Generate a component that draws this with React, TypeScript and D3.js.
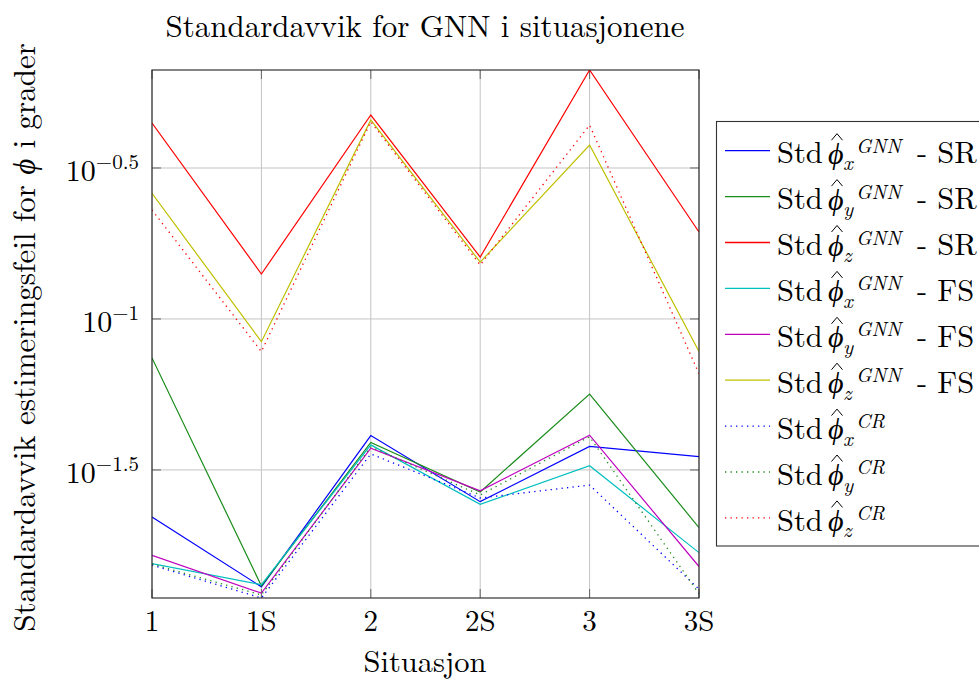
import React from 'react';
import * as d3 from 'd3';

// ---- data (standard deviation, degrees) ----
const situations = ['1', '1S', '2', '2S', '3', '3S'];

const stdXGnnSR = [0.02208, 0.01297, 0.04111, 0.02483, 0.03784, 0.03499];
const stdYGnnSR = [0.0743, 0.01306, 0.0390, 0.02673, 0.0564, 0.02037];
const stdZGnnSR = [0.4457, 0.1409, 0.4736, 0.1603, 0.6676, 0.1941];
const stdXGnnFS = [0.01549, 0.01318, 0.03828, 0.02432, 0.03266, 0.01683];
const stdYGnnFS = [0.01648, 0.01236, 0.03733, 0.02698, 0.04121, 0.01514];
const stdZGnnFS = [0.2606, 0.0841, 0.4560, 0.1542, 0.3767, 0.0780];
const stdXCR = [0.01531, 0.01191, 0.03573, 0.02553, 0.02818, 0.01274];
const stdYCR = [0.01542, 0.01219, 0.03767, 0.02612, 0.04074, 0.01230];
const stdZCR = [0.2296, 0.0780, 0.4498, 0.1510, 0.4385, 0.0658];

const yTickPowers = [-0.5, -1, -1.5];
const yTickLabels = ['\u22120.5', '\u22121', '\u22121.5'];

const seriesList = [
  { values: stdXGnnSR, color: '#0000ff', dotted: false, sub: 'x', sup: 'GNN', suffix: '- SR' },
  { values: stdYGnnSR, color: '#1a8c1a', dotted: false, sub: 'y', sup: 'GNN', suffix: '- SR' },
  { values: stdZGnnSR, color: '#ff0000', dotted: false, sub: 'z', sup: 'GNN', suffix: '- SR' },
  { values: stdXGnnFS, color: '#00bfbf', dotted: false, sub: 'x', sup: 'GNN', suffix: '- FS' },
  { values: stdYGnnFS, color: '#bf00bf', dotted: false, sub: 'y', sup: 'GNN', suffix: '- FS' },
  { values: stdZGnnFS, color: '#bfbf00', dotted: false, sub: 'z', sup: 'GNN', suffix: '- FS' },
  { values: stdXCR, color: '#0000ff', dotted: true, sub: 'x', sup: 'CR', suffix: '' },
  { values: stdYCR, color: '#1a8c1a', dotted: true, sub: 'y', sup: 'CR', suffix: '' },
  { values: stdZCR, color: '#ff0000', dotted: true, sub: 'z', sup: 'CR', suffix: '' },
];

const W = 979;
const H = 680;
const plot = { left: 152, right: 699, top: 70, bottom: 598 };
const FONT = '"Latin Modern Roman", "Liberation Serif", serif';
const PHI_FONT = '"Liberation Serif", "DejaVu Serif", serif';

export default function App() {
  const allValues = seriesList.flatMap((s) => s.values);
  const x = d3.scalePoint<string>().domain(situations).range([plot.left, plot.right]);
  const y = d3
    .scaleLog()
    .domain(d3.extent(allValues) as [number, number])
    .range([plot.bottom, plot.top]);

  const line = d3
    .line<number>()
    .x((_, i) => x(situations[i]) as number)
    .y((v) => y(v));

  const tickLen = 9;
  const legendTop = 150.7;
  const legendStep = 45.9;
  const txt = { fontFamily: FONT, fill: '#000' } as React.CSSProperties;
  const ital = { fontFamily: FONT, fontStyle: 'italic', fill: '#000' } as React.CSSProperties;
  const phi = { fontFamily: PHI_FONT, fontStyle: 'italic', fill: '#000' } as React.CSSProperties;

  return (
    <svg
      width={W}
      height={H}
      style={{ position: 'absolute', left: 0, top: 0, background: '#fff', fontFamily: FONT }}
    >
      <defs>
        <clipPath id="plotClip">
          <rect x={plot.left} y={plot.top} width={plot.right - plot.left} height={plot.bottom - plot.top} />
        </clipPath>
      </defs>
      <rect x={0} y={0} width={W} height={H} fill="#fff" />

      {/* grid */}
      {situations.map((s) => (
        <line key={'gx' + s} x1={x(s)} x2={x(s)} y1={plot.top} y2={plot.bottom} stroke="#c4c4c4" strokeWidth={1} />
      ))}
      {yTickPowers.map((p) => (
        <line key={'gy' + p} x1={plot.left} x2={plot.right} y1={y(10 ** p)} y2={y(10 ** p)} stroke="#c4c4c4" strokeWidth={1} />
      ))}
      {/* tick marks */}
      {situations.map((s) => (
        <g key={'tx' + s} stroke="#666" strokeWidth={1}>
          <line x1={x(s)} x2={x(s)} y1={plot.bottom} y2={plot.bottom - tickLen} />
          <line x1={x(s)} x2={x(s)} y1={plot.top} y2={plot.top + tickLen} />
        </g>
      ))}
      {yTickPowers.map((p) => (
        <g key={'ty' + p} stroke="#666" strokeWidth={1}>
          <line x1={plot.left} x2={plot.left + tickLen} y1={y(10 ** p)} y2={y(10 ** p)} />
          <line x1={plot.right} x2={plot.right - tickLen} y1={y(10 ** p)} y2={y(10 ** p)} />
        </g>
      ))}

      {/* series */}
      <g clipPath="url(#plotClip)">
        {seriesList.map((s, i) => (
          <path
            key={'s' + i}
            d={line(s.values) as string}
            fill="none"
            stroke={s.color}
            strokeWidth={s.dotted ? 1.3 : 1.2}
            strokeDasharray={s.dotted ? '1.3 4.2' : undefined}
          />
        ))}
      </g>

      {/* frame */}
      <rect
        x={plot.left}
        y={plot.top}
        width={plot.right - plot.left}
        height={plot.bottom - plot.top}
        fill="none"
        stroke="#222"
        strokeWidth={1.1}
      />

      {/* x tick labels */}
      {situations.map((s) => (
        <text key={'xl' + s} x={x(s)} y={631} fontSize={29} textAnchor="middle" style={txt}>
          {s}
        </text>
      ))}
      {/* y tick labels */}
      {yTickPowers.map((p, i) => (
        <text key={'yl' + p} x={139} y={y(10 ** p) + 13.4} fontSize={30} textAnchor="end" style={txt}>
          10
          <tspan dy={-12.5} fontSize={21}>
            {yTickLabels[i]}
          </tspan>
        </text>
      ))}

      {/* title */}
      <text x={425} y={37} fontSize={31} textAnchor="middle" style={txt}>
        Standardavvik for GNN i situasjonene
      </text>
      {/* x label */}
      <text x={425} y={672} fontSize={30.5} textAnchor="middle" style={txt}>
        Situasjon
      </text>
      {/* y label */}
      <text transform="translate(35,337.5) rotate(-90)" x={0} y={0} fontSize={31} textAnchor="middle" style={txt}>
        Standardavvik estimeringsfeil for <tspan style={phi} fontWeight={300}>{'\u03D5'}</tspan> i grader
      </text>

      {/* legend */}
      <rect x={716.5} y={121.5} width={300} height={424.5} fill="#fff" stroke="#333" strokeWidth={1.1} />
      {seriesList.map((s, i) => {
        const ly = legendTop + i * legendStep;
        return (
          <g key={'lg' + i} transform={`translate(0,${ly})`}>
            <line
              x1={725}
              x2={770}
              y1={0}
              y2={0}
              stroke={s.color}
              strokeWidth={1.3}
              strokeDasharray={s.dotted ? '1.3 4.2' : undefined}
            />
            <text x={777} y={12.6} fontSize={30.5} style={txt}>
              Std
            </text>
            <text x={828} y={13} fontSize={30} style={phi}>
              {'\u03D5'}
            </text>
            <path d="M831.5,-10.5 L837,-17 L842.5,-10.5" fill="none" stroke="#000" strokeWidth={1} />
            <text x={843} y={19.5} fontSize={21} style={ital}>
              {s.sub}
            </text>
            <text x={856} y={2} fontSize={20} style={ital}>
              {s.sup}
            </text>
            {s.suffix && (
              <text x={917} y={12.6} fontSize={30.5} style={txt}>
                {s.suffix}
              </text>
            )}
          </g>
        );
      })}
    </svg>
  );
}
